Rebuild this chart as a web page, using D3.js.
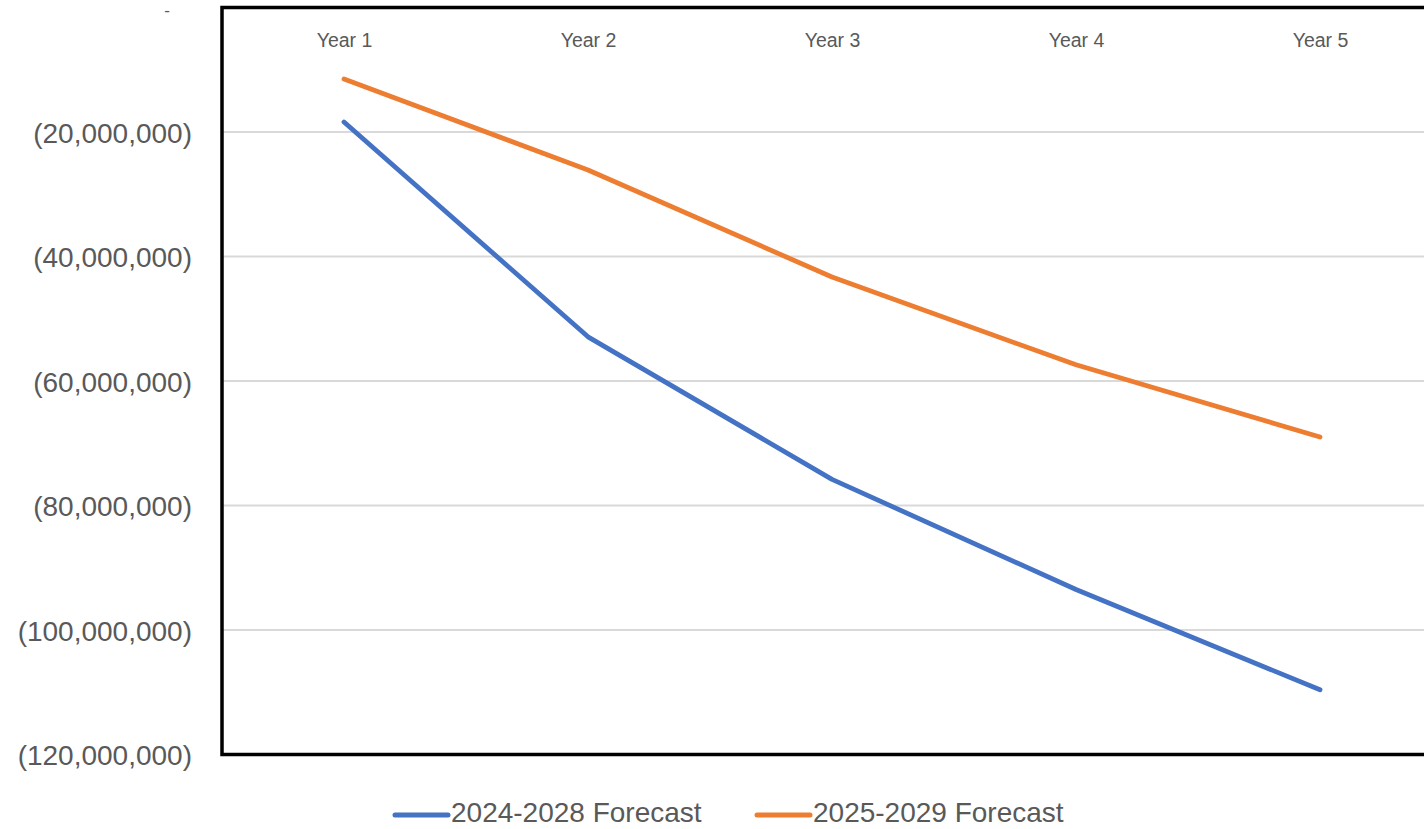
<!DOCTYPE html>
<html><head><meta charset="utf-8">
<script src="https://cdn.jsdelivr.net/npm/d3@7"></script>
<style>
html,body{margin:0;padding:0;background:#fff;overflow:hidden;}
svg{display:block;font-family:"Liberation Sans",Arial,sans-serif;}
</style></head>
<body>
<svg id="chart" width="1424" height="829"></svg>
<script>
const categories = ["Year 1","Year 2","Year 3","Year 4","Year 5"];
const seriesNames = ["2024-2028 Forecast","2025-2029 Forecast"];
const forecast2024 = [-18400000,-52900000,-75800000,-93500000,-109600000];
const forecast2025 = [-11500000,-26100000,-43300000,-57400000,-69000000];
const yTicks = [0,-20000000,-40000000,-60000000,-80000000,-100000000,-120000000];
const colors = ["#4472C4","#ED7D31"];

const svg = d3.select("#chart");
const plotLeft = 222, plotRight = 1442, plotTop = 7.5, plotBottom = 754.5;

const x = d3.scalePoint().domain(categories).range([plotLeft, plotRight]).padding(0.5);
const y = d3.scaleLinear().domain([0,-120000000]).range([plotTop, plotBottom]);

// gridlines
svg.append("g").selectAll("line").data(yTicks.slice(1,-1)).join("line")
  .attr("x1", plotLeft).attr("x2", 1424)
  .attr("y1", d=>y(d)).attr("y2", d=>y(d))
  .attr("stroke","#D9D9D9").attr("stroke-width",1.8);

// y axis labels
const fmt = d3.format(",");
const yAxis = d3.axisLeft(y).tickValues(yTicks).tickSize(0).tickPadding(0)
  .tickFormat(d => d === 0 ? "-" : "(" + fmt(Math.abs(d)) + ")");
const gy = svg.append("g").attr("transform","translate(192,0)").call(yAxis);
gy.select(".domain").remove();
gy.selectAll("text").attr("fill","#595959")
  .style("font-size", d => d === 0 ? "17px" : "28px")
  .attr("font-family","Liberation Sans, Arial, sans-serif")
  .attr("dy", d => d === 0 ? "7.5" : "0.36em")
  .attr("dx", d => d === 0 ? -22 : 0);

// x axis labels at top
const xAxis = d3.axisTop(x).tickSize(0).tickPadding(0);
const gx = svg.append("g").attr("transform","translate(0,47)").call(xAxis);
gx.select(".domain").remove();
gx.selectAll("text").attr("fill","#595959").style("font-size","19.5px")
  .attr("font-family","Liberation Sans, Arial, sans-serif").attr("dy","0");

// lines
const line = d3.line().x((d,i)=>x(categories[i])).y(d=>y(d));
[forecast2024, forecast2025].forEach((s,k)=>{
  svg.append("path").datum(s).attr("d", line)
    .attr("fill","none").attr("stroke",colors[k]).attr("stroke-width",4.8)
    .attr("stroke-linejoin","round").attr("stroke-linecap","round");
});

// frame
svg.append("rect").attr("x",plotLeft).attr("y",plotTop).attr("width",plotRight-plotLeft).attr("height",plotBottom-plotTop)
  .attr("fill","none").attr("stroke","#000").attr("stroke-width",3.5);

// legend
const legendItems = [{name:seriesNames[0],c:colors[0],x:395},{name:seriesNames[1],c:colors[1],x:757}];
const lg = svg.append("g");
legendItems.forEach(it=>{
  lg.append("line").attr("x1",it.x).attr("x2",it.x+53).attr("y1",815).attr("y2",815)
    .attr("stroke",it.c).attr("stroke-width",5).attr("stroke-linecap","round");
  lg.append("text").attr("x",it.x+56).attr("y",822).text(it.name)
    .attr("fill","#595959").style("font-size","28px");
});
</script>
</body></html>
